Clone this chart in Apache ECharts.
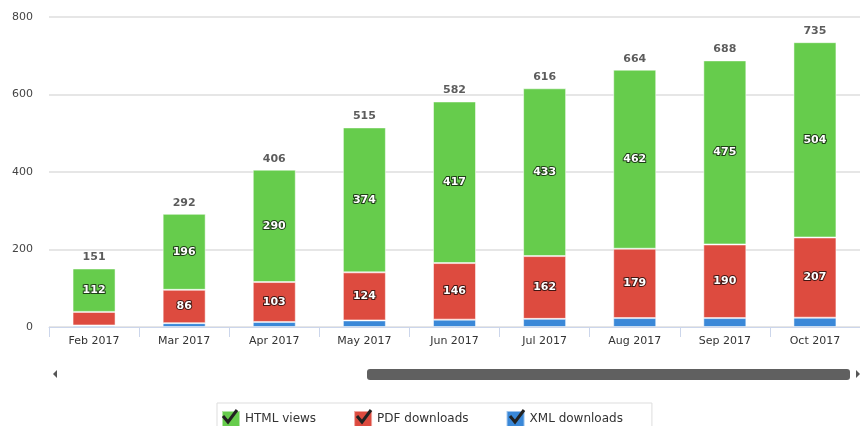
<!DOCTYPE html>
<html>
<head>
<meta charset="utf-8">
<script src="https://cdn.jsdelivr.net/npm/echarts@6/dist/echarts.min.js"></script>
<style>
  html, body { margin: 0; padding: 0; background: #fff; }
  #chart { width: 860px; height: 426px; }
</style>
</head>
<body>
<div id="chart"></div>
<script>
// data
var months = ['Feb 2017', 'Mar 2017', 'Apr 2017', 'May 2017', 'Jun 2017', 'Jul 2017', 'Aug 2017', 'Sep 2017', 'Oct 2017'];
var xmlDownloads = [4, 10, 13, 17, 19, 21, 23, 23, 24];
var pdfDownloads = [35, 86, 103, 124, 146, 162, 179, 190, 207];
var htmlViews = [112, 196, 290, 374, 417, 433, 462, 475, 504];

var totals = months.map(function (m, i) {
  return xmlDownloads[i] + pdfDownloads[i] + htmlViews[i];
});

var font = 'DejaVu Sans, Verdana, sans-serif';

var innerLabel = {
  show: true,
  color: '#fff',
  fontFamily: font,
  fontSize: 11,
  fontWeight: 'bold',
  textBorderColor: 'rgba(0,0,0,0.7)',
  textBorderWidth: 2,
  formatter: function (p) {
    return p.value >= 50 ? p.value : '';
  }
};

function checkMark(x) {
  return {
    type: 'polyline',
    shape: { points: [[x + 2, 416], [x + 7, 422], [x + 16, 410]] },
    style: { stroke: '#222', lineWidth: 3, fill: null },
    z: 100
  };
}

var chart = echarts.init(document.getElementById('chart'));
chart.setOption({
  backgroundColor: '#fff',
  animation: false,
  textStyle: { fontFamily: font },
  grid: { left: 49, right: -8, top: 17, bottom: 99, containLabel: false },
  legend: {
    left: 217,
    top: 403,
    padding: [7, 29, 7, 4],
    borderColor: '#ddd',
    borderWidth: 1,
    itemWidth: 18,
    itemHeight: 16,
    itemGap: 37,
    icon: 'rect',
    data: ['HTML views', 'PDF downloads', 'XML downloads'],
    textStyle: { color: '#333', fontSize: 12, fontFamily: font }
  },
  xAxis: {
    type: 'category',
    data: months,
    axisLine: { lineStyle: { color: '#ccd6eb' } },
    axisTick: { show: true, length: 10, lineStyle: { color: '#ccd6eb' } },
    axisLabel: { color: '#333', fontSize: 11, margin: 9, fontFamily: font }
  },
  yAxis: {
    type: 'value',
    min: 0,
    max: 800,
    interval: 200,
    axisLine: { show: false },
    axisTick: { show: false },
    axisLabel: { color: '#444', fontSize: 11, margin: 16, fontFamily: font },
    splitLine: { lineStyle: { color: '#e6e6e6', width: 2 } }
  },
  series: [
    {
      name: 'XML downloads',
      type: 'bar',
      stack: 'all',
      barWidth: 43,
      data: xmlDownloads,
      itemStyle: { color: '#3a88d8', borderColor: 'rgba(255,255,255,0.5)', borderWidth: 1 },
      label: { show: false }
    },
    {
      name: 'PDF downloads',
      type: 'bar',
      stack: 'all',
      barWidth: 43,
      data: pdfDownloads,
      itemStyle: { color: '#dd4b3f', borderColor: 'rgba(255,255,255,0.5)', borderWidth: 1 },
      label: innerLabel
    },
    {
      name: 'HTML views',
      type: 'bar',
      stack: 'all',
      barWidth: 43,
      data: htmlViews,
      itemStyle: { color: '#66cc4c', borderColor: 'rgba(255,255,255,0.5)', borderWidth: 1 },
      label: innerLabel
    },
    {
      name: 'Total',
      type: 'scatter',
      data: totals,
      symbolSize: 1,
      itemStyle: { color: 'rgba(0,0,0,0)' },
      silent: true,
      label: {
        show: true,
        position: 'top',
        distance: 5,
        color: '#333',
        fontSize: 11,
        fontWeight: 'bold',
        fontFamily: font,
        formatter: '{c}'
      }
    }
  ],
  graphic: [
    {
      type: 'rect',
      shape: { x: 367, y: 369, width: 483, height: 11, r: 3 },
      style: { fill: '#606060' }
    },
    {
      type: 'polygon',
      shape: { points: [[53, 374], [57, 370], [57, 378]] },
      style: { fill: '#555' }
    },
    {
      type: 'polygon',
      shape: { points: [[860, 374], [856, 370], [856, 378]] },
      style: { fill: '#555' }
    },
    checkMark(221),
    checkMark(355),
    checkMark(508)
  ]
});
</script>
</body>
</html>
